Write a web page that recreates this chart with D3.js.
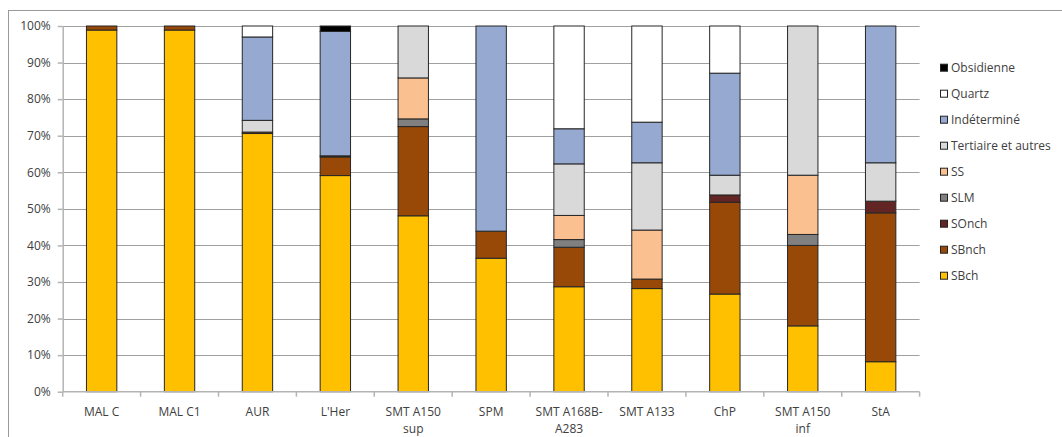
<!DOCTYPE html>
<html>
<head>
<meta charset="utf-8">
<script src="https://cdn.jsdelivr.net/npm/d3@7"></script>
<style>
  html, body { margin: 0; padding: 0; background: #fff; }
  svg { display: block; }
  text { font-family: "Open Sans", "Noto Sans", sans-serif; fill: #404040; }
</style>
</head>
<body>
<svg id="chart" width="1062" height="437"></svg>
<script>
// ---- Data ----
const categories = ["MAL C", "MAL C1", "AUR", "L'Her", "SMT A150 sup", "SPM", "SMT A168B-A283", "SMT A133", "ChP", "SMT A150 inf", "StA"];
const tickLabels = [["MAL C"], ["MAL C1"], ["AUR"], ["L'Her"], ["SMT A150", "sup"], ["SPM"], ["SMT A168B-", "A283"], ["SMT A133"], ["ChP"], ["SMT A150", "inf"], ["StA"]];
// series in stacking order (bottom -> top)
const seriesNames = ["SBch", "SBnch", "SOnch", "SLM", "SS", "Tertiaire et autres", "Indéterminé", "Quartz", "Obsidienne"];
const SBch       = [98.9, 98.9, 70.6, 59.1, 48.1, 36.5, 28.7, 28.2, 26.7, 18.0, 8.2];
const SBnch      = [1.1, 1.1, 0.4, 5.1, 24.4, 7.4, 10.8, 2.6, 25.1, 22.0, 40.7];
const SOnch      = [0, 0, 0, 0.3, 0, 0, 0, 0, 2.0, 0, 3.2];
const SLM        = [0, 0, 0, 0, 2.1, 0, 2.1, 0, 0, 3.0, 0];
const SS         = [0, 0, 0, 0, 11.2, 0, 6.6, 13.4, 0, 16.2, 0];
const Tertiaire  = [0, 0, 3.2, 0, 14.2, 0, 14.1, 18.4, 5.4, 40.8, 10.5];
const Indetermine= [0, 0, 22.8, 34.0, 0, 56.1, 9.6, 11.1, 27.9, 0, 37.4];
const Quartz     = [0, 0, 3.0, 0, 0, 0, 28.1, 26.3, 12.9, 0, 0];
const Obsidienne = [0, 0, 0, 1.5, 0, 0, 0, 0, 0, 0, 0];
const yTicks = [0, 0.1, 0.2, 0.3, 0.4, 0.5, 0.6, 0.7, 0.8, 0.9, 1.0];
const colors = ["#FFC000", "#984807", "#632523", "#808080", "#FAC090", "#D9D9D9", "#95A9D1", "#FFFFFF", "#000000"];

const seriesValues = [SBch, SBnch, SOnch, SLM, SS, Tertiaire, Indetermine, Quartz, Obsidienne];
const table = categories.map((c, i) => {
  const row = { cat: c };
  seriesNames.forEach((s, j) => row[s] = seriesValues[j][i]);
  return row;
});

// ---- Layout ----
const svg = d3.select("#chart");
const plotLeft = 62.7, plotRight = 919.6, plotTop = 26, plotBottom = 391.7;

// outer chart frame
svg.append("rect")
  .attr("x", 8.5).attr("y", 10.5).attr("width", 1100).attr("height", 500)
  .attr("fill", "none").attr("stroke", "#9a9a9a").attr("stroke-width", 1);

const x = d3.scaleBand().domain(categories).range([plotLeft, plotRight]).padding(0);
const y = d3.scaleLinear().domain([0, 1]).range([plotBottom, plotTop]);

// gridlines
svg.append("g").selectAll("line").data(yTicks.filter(d => d > 0)).join("line")
  .attr("x1", plotLeft).attr("x2", plotRight)
  .attr("y1", d => Math.round(y(d)) + 0.5).attr("y2", d => Math.round(y(d)) + 0.5)
  .attr("stroke", "#a0a0a0").attr("stroke-width", 1);

// stacked bars
const stack = d3.stack().keys(seriesNames).value((d, k) => d[k] / 100);
const stacked = stack(table);
const barW = x.bandwidth() * 0.39;

svg.append("g").selectAll("g").data(stacked).join("g")
  .attr("fill", (d, i) => colors[i])
  .selectAll("rect").data(d => d.filter(p => p[1] - p[0] > 0)).join("rect")
  .attr("x", d => x(d.data.cat) + (x.bandwidth() - barW) / 2)
  .attr("width", barW)
  .attr("y", d => y(d[1]))
  .attr("height", d => y(d[0]) - y(d[1]))
  .attr("stroke", "#262626").attr("stroke-width", 1);

// y axis
const yAxis = d3.axisLeft(y).tickValues(yTicks).tickFormat(d3.format(".0%"))
  .tickSize(5).tickSizeOuter(0).tickPadding(7);
const gy = svg.append("g").attr("transform", `translate(${plotLeft},0)`).call(yAxis);
gy.select(".domain").attr("stroke", "#b4b4b4").attr("stroke-width", 1.5);
gy.selectAll(".tick line").attr("stroke", "#b4b4b4").attr("stroke-width", 1.5);
gy.selectAll(".tick text").style("font-size", "12px").attr("fill", "#404040");

// x axis
const gx = svg.append("g").attr("transform", `translate(0,${plotBottom})`);
gx.append("line").attr("x1", plotLeft).attr("x2", plotRight).attr("y1", 0).attr("y2", 0)
  .attr("stroke", "#b4b4b4").attr("stroke-width", 1.5);
const boundaries = categories.map(c => x(c)).concat([plotRight]);
gx.selectAll("line.tk").data(boundaries).join("line").attr("class", "tk")
  .attr("x1", d => d).attr("x2", d => d).attr("y1", 0).attr("y2", 5)
  .attr("stroke", "#b4b4b4").attr("stroke-width", 1.5);
const lbl = gx.selectAll("text.lbl").data(categories).join("text").attr("class", "lbl")
  .attr("text-anchor", "middle")
  .style("font-size", "12px")
  .attr("transform", d => `translate(${x(d) + x.bandwidth() / 2},24)`);
lbl.selectAll("tspan").data((d, i) => tickLabels[i]).join("tspan")
  .attr("x", 0).attr("y", (d, i) => i * 17).text(d => d);

// legend (top entry = last series)
const legendItems = seriesNames.map((s, i) => ({ name: s, color: colors[i] })).reverse();
const lg = svg.append("g").selectAll("g").data(legendItems).join("g")
  .attr("transform", (d, i) => `translate(940,${67.7 + i * 26})`);
lg.append("rect").attr("x", 0.5).attr("y", -3.5).attr("width", 7).attr("height", 7)
  .attr("fill", d => d.color).attr("stroke", "#222").attr("stroke-width", 1);
lg.append("text").attr("x", 11).attr("y", 0).attr("dy", "0.35em")
  .style("font-size", "12px").attr("fill", "#404040").text(d => d.name);
</script>
</body>
</html>
